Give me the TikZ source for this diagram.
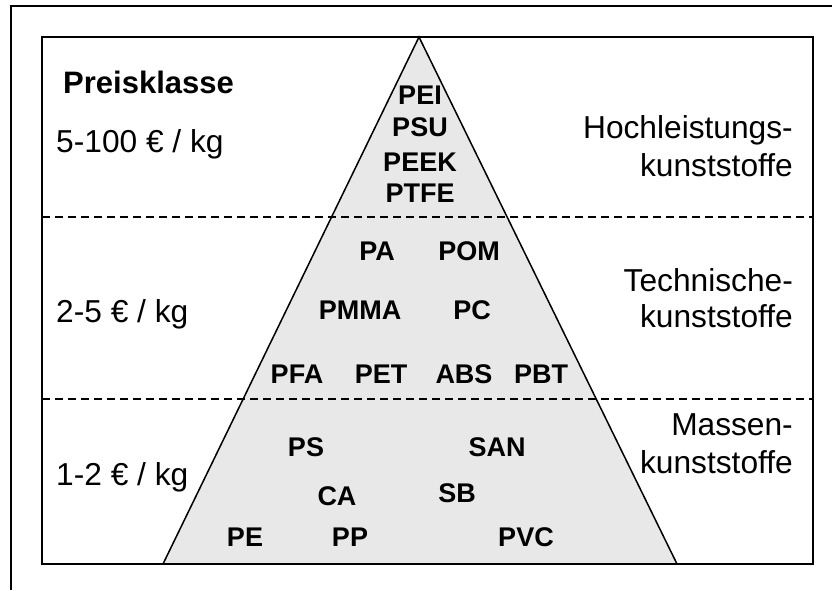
\documentclass[tikz,border=0pt]{standalone}
\usepackage{fontspec}
\setmainfont{Liberation Sans}
\definecolor{trifill}{HTML}{E8E8E8}
\begin{document}
\begin{tikzpicture}[x=1pt,y=-1pt,
  frame/.style={line width=1.8pt,black},
  sepline/.style={line width=1.4pt,dash pattern=on 8pt off 5pt},
  plast/.style={inner sep=0pt,font=\fontsize{27}{30}\selectfont\bfseries},
  txt/.style={inner sep=0pt,font=\fontsize{31.7}{36}\selectfont},
  txtb/.style={inner sep=0pt,font=\fontsize{31}{36}\selectfont\bfseries}]
\useasboundingbox (0,0) rectangle (832,590);
\fill[white] (0,0) rectangle (832,590);
% outer frame (cut off at right and bottom)
\coordinate (ob) at (11,590);
\coordinate (otl) at (11,6);
\coordinate (otr) at (832,6);
\draw[frame] (ob) -- (otl) -- (otr);
% triangle
\coordinate (apex) at (419,37);
\coordinate (bl) at (163,564);
\coordinate (br) at (677,564);
\filldraw[fill=trifill,draw=black,line width=1.5pt,line join=miter] (bl) -- (apex) -- (br) -- cycle;
% separators
\coordinate (d1l) at (42,217); \coordinate (d1r) at (813,217);
\coordinate (d2l) at (42,399); \coordinate (d2r) at (813,399);
\draw[sepline] (d1l) -- (d1r);
\draw[sepline] (d2l) -- (d2r);
% inner frame
\coordinate (ftl) at (42,37); \coordinate (fbr) at (813,564);
\draw[frame] (ftl) rectangle (fbr);
% left texts
\node[txtb,anchor=base west] (preis) at (63,93) {Preisklasse};
\node[txt,anchor=base west] (p1) at (56,152) {5-100 € / kg};
\node[txt,anchor=base west] (p2) at (56,322) {2-5 € / kg};
\node[txt,anchor=base west] (p3) at (56,485) {1-2 € / kg};
% right texts
\node[txt,anchor=base east] (h1) at (793,138) {Hochleistungs-};
\node[txt,anchor=base east] (h2) at (793,176) {kunststoffe};
\node[txt,anchor=base east] (t1) at (793,291) {Technische-};
\node[txt,anchor=base east] (t2) at (793,327) {kunststoffe};
\node[txt,anchor=base east] (m1) at (793,435) {Massen-};
\node[txt,anchor=base east] (m2) at (793,473) {kunststoffe};
% plastics
\node[plast] (pei) at (420,95) {PEI};
\node[plast] (psu) at (420,127) {PSU};
\node[plast] (peek) at (420,162) {PEEK};
\node[plast] (ptfe) at (420,193) {PTFE};
\node[plast] (pa) at (377,251) {PA};
\node[plast] (pom) at (469,251) {POM};
\node[plast] (pmma) at (360,310) {PMMA};
\node[plast] (pc) at (472,310) {PC};
\node[plast] (pfa) at (297,374) {PFA};
\node[plast] (pet) at (381,374) {PET};
\node[plast] (abs) at (464,374) {ABS};
\node[plast] (pbt) at (541,374) {PBT};
\node[plast] (ps) at (306,447) {PS};
\node[plast] (san) at (497,447) {SAN};
\node[plast] (ca) at (337,496) {CA};
\node[plast] (sb) at (457,493) {SB};
\node[plast] (pe) at (245,537) {PE};
\node[plast] (pp) at (350,537) {PP};
\node[plast] (pvc) at (526,537) {PVC};
\end{tikzpicture}
\end{document}
